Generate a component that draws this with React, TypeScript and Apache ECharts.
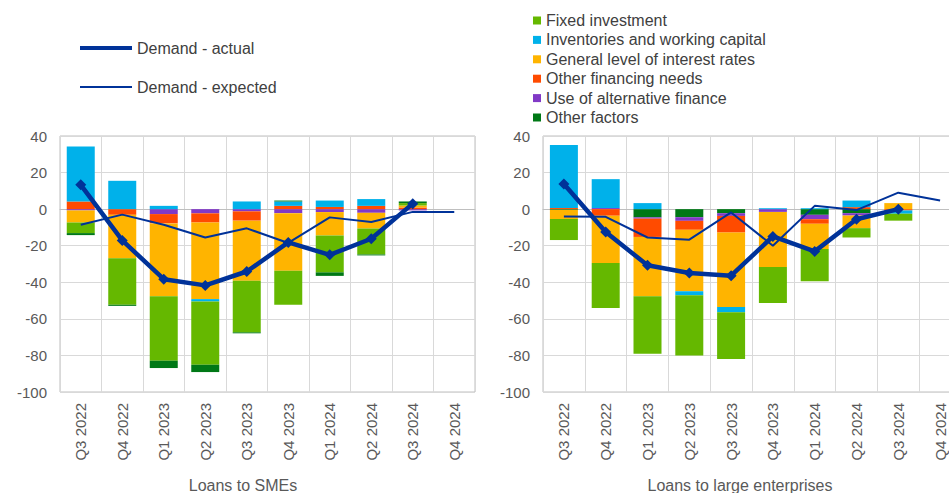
import React, { useEffect, useRef } from "react";
import * as echarts from "echarts";

const categories = ["Q3 2022", "Q4 2022", "Q1 2023", "Q2 2023", "Q3 2023", "Q4 2023", "Q1 2024", "Q2 2024", "Q3 2024", "Q4 2024"];

// Loans to SMEs
const smeFixed = [-5.8, -25.5, -35.2, -34.6, -28.3, -18.6, -20.2, -14.2, 1.3, null];
const smeInventories = [30.1, 15.5, 1.8, -1.3, 4.2, 2.4, 3.5, 3.7, null, null];
const smeInterest = [-6.6, -23.7, -39.9, -41.9, -32.8, -31.5, -12.8, -8.6, 1.1, null];
const smeOtherFin = [4.2, -3.1, -5.1, -5.0, -5.1, 1.8, 1.2, 1.8, 0.9, null];
const smeAltFin = [-0.7, 0, -2.7, -2.3, -1.2, -2.2, -1.6, -2.0, -0.7, null];
const smeOther = [-1.1, -0.6, -4.0, -4.0, -0.5, 0.5, -1.9, -0.5, 0.9, null];
const smeActual = [13.3, -17.1, -38.3, -41.7, -34.1, -18.2, -25.0, -16.2, 3.0, null];
const smeExpected = [-8.5, -3, -8.5, -15.5, -10.5, -18.5, -4.5, -7, -1.5, -1.5];

// Loans to large enterprises
const lgFixed = [-11.5, -24.5, -31.5, -32.9, -25.5, -19.7, -17.6, -5.1, -3.8, null];
const lgInventories = [34.5, 15.8, 3.3, -2.2, -2.9, 0.5, 0.5, 3.6, -1.8, null];
const lgInterest = [-5.0, -25.9, -32.4, -33.6, -40.7, -30.1, -13.8, -6.9, 3.3, null];
const lgOtherFin = [0.6, -3.6, -10.0, -4.9, -9.1, 0, -2.5, 1.1, -0.7, null];
const lgAltFin = [0, 0.6, -0.7, -2.0, -1.5, -1.5, -2.4, -1.3, 0, null];
const lgOther = [-0.4, 0, -4.5, -4.4, -2.2, 0, -3.1, -2.2, 0, null];
const lgActual = [13.8, -12.5, -30.7, -34.9, -36.4, -14.9, -23.1, -5.5, 0, null];
const lgExpected = [-4.0, -4.2, -15.5, -16.7, -1.8, -20, 1.8, -0.5, 9, 4.7];

const yTicks = { min: -100, max: 40, interval: 20 };

const N_FIXED = "Fixed investment";
const N_INV = "Inventories and working capital";
const N_INT = "General level of interest rates";
const N_OFN = "Other financing needs";
const N_ALT = "Use of alternative finance";
const N_OTH = "Other factors";
const N_ACT = "Demand - actual";
const N_EXP = "Demand - expected";

const barLegend = [N_FIXED, N_INV, N_INT, N_OFN, N_ALT, N_OTH];

const COLORS: Record<string, string> = {
  [N_FIXED]: "#65B800",
  [N_INV]: "#00B1EA",
  [N_INT]: "#FFB400",
  [N_OFN]: "#FF4B00",
  [N_ALT]: "#8139C6",
  [N_OTH]: "#007816",
};
const LINE = "#003299";
const FONT = "'Liberation Sans', Arial, sans-serif";

export default function App() {
  const ref = useRef<HTMLDivElement>(null);
  useEffect(() => {
    if (!ref.current) return;
    const chart = echarts.init(ref.current, null, { renderer: "svg" });

    const smeData: Record<string, (number | null)[]> = {
      [N_FIXED]: smeFixed, [N_INV]: smeInventories, [N_INT]: smeInterest,
      [N_OFN]: smeOtherFin, [N_ALT]: smeAltFin, [N_OTH]: smeOther,
    };
    const lgData: Record<string, (number | null)[]> = {
      [N_FIXED]: lgFixed, [N_INV]: lgInventories, [N_INT]: lgInterest,
      [N_OFN]: lgOtherFin, [N_ALT]: lgAltFin, [N_OTH]: lgOther,
    };
    const smeOrder = [N_ALT, N_OFN, N_INT, N_INV, N_FIXED, N_OTH];
    const lgOrder = [N_OTH, N_ALT, N_OFN, N_INT, N_INV, N_FIXED];

    const barSeries = (order: string[], data: Record<string, (number | null)[]>, idx: number) =>
      order.map((name) => ({
        type: "bar",
        name,
        stack: "s" + idx,
        xAxisIndex: idx,
        yAxisIndex: idx,
        barWidth: 28,
        data: data[name],
        itemStyle: { color: COLORS[name] },
      }));

    const lineSeries = (act: (number | null)[], exp: (number | null)[], idx: number) => [
      {
        type: "line",
        name: N_EXP,
        xAxisIndex: idx,
        yAxisIndex: idx,
        data: exp,
        symbol: "none",
        lineStyle: { color: LINE, width: 2 },
        itemStyle: { color: LINE },
        z: 5,
      },
      {
        type: "line",
        name: N_ACT,
        xAxisIndex: idx,
        yAxisIndex: idx,
        data: act,
        symbol: "diamond",
        symbolSize: 11,
        lineStyle: { color: LINE, width: 4.5 },
        itemStyle: { color: LINE },
        z: 6,
      },
    ];

    const xAxis = (idx: number) => ({
      type: "category",
      gridIndex: idx,
      data: categories,
      boundaryGap: true,
      axisLine: { show: true, lineStyle: { color: "#bfbfbf" } },
      axisTick: { show: false },
      splitLine: { show: true, interval: 0, lineStyle: { color: "#d9d9d9", width: 1 } },
      axisLabel: { rotate: 90, interval: 0, color: "#595959", fontSize: 15, fontFamily: FONT, margin: 11 },
    });
    const yAxis = (idx: number) => ({
      type: "value",
      gridIndex: idx,
      min: yTicks.min,
      max: yTicks.max,
      interval: yTicks.interval,
      axisLine: { show: false },
      axisTick: { show: false },
      splitLine: { show: true, lineStyle: { color: "#d9d9d9", width: 1 } },
      axisLabel: { color: "#595959", fontSize: 15, fontFamily: FONT, margin: 13 },
    });

    const legendText = { color: "#404040", fontSize: 16, fontFamily: FONT };
    const titleStyle = (text: string) => ({
      text, fill: "#595959", fontSize: 16, fontFamily: FONT,
      align: "center", verticalAlign: "middle", textAlign: "center", textVerticalAlign: "middle",
    });

    const option: any = {
      animation: false,
      backgroundColor: "#ffffff",
      grid: [
        { left: 60, top: 136, width: 415, height: 256, show: true, borderColor: "#bfbfbf", borderWidth: 1 },
        { left: 543, top: 136, width: 418, height: 256, show: true, borderColor: "#bfbfbf", borderWidth: 1 },
      ],
      xAxis: [xAxis(0), xAxis(1)],
      yAxis: [yAxis(0), yAxis(1)],
      legend: [
        {
          data: [N_ACT], left: 80, top: 40, padding: 0, icon: "rect",
          itemWidth: 52, itemHeight: 4, textStyle: legendText, selectedMode: false,
        },
        {
          data: [N_EXP], left: 80, top: 79, padding: 0, icon: "rect",
          itemWidth: 52, itemHeight: 2, textStyle: legendText, selectedMode: false,
        },
        ...barLegend.map((n, i) => ({
          data: [n], left: 533, top: 12.5 + i * 19.4, padding: 0, icon: "rect",
          itemWidth: 8, itemHeight: 8, itemGap: 0, textStyle: legendText, selectedMode: false,
        })),
      ],
      graphic: [
        { type: "text", x: 243, y: 485, style: titleStyle("Loans to SMEs") },
        { type: "text", x: 740, y: 485, style: titleStyle("Loans to large enterprises") },
      ],
      series: [
        ...barSeries(smeOrder, smeData, 0),
        ...barSeries(lgOrder, lgData, 1),
        ...lineSeries(smeActual, smeExpected, 0),
        ...lineSeries(lgActual, lgExpected, 1),
      ],
    };
    chart.setOption(option);
    return () => chart.dispose();
  }, []);

  return (
    <div style={{ position: "absolute", left: 0, top: 0, width: 949, height: 493, overflow: "hidden", background: "#fff" }}>
      <div ref={ref} style={{ width: 975, height: 493 }} />
    </div>
  );
}
